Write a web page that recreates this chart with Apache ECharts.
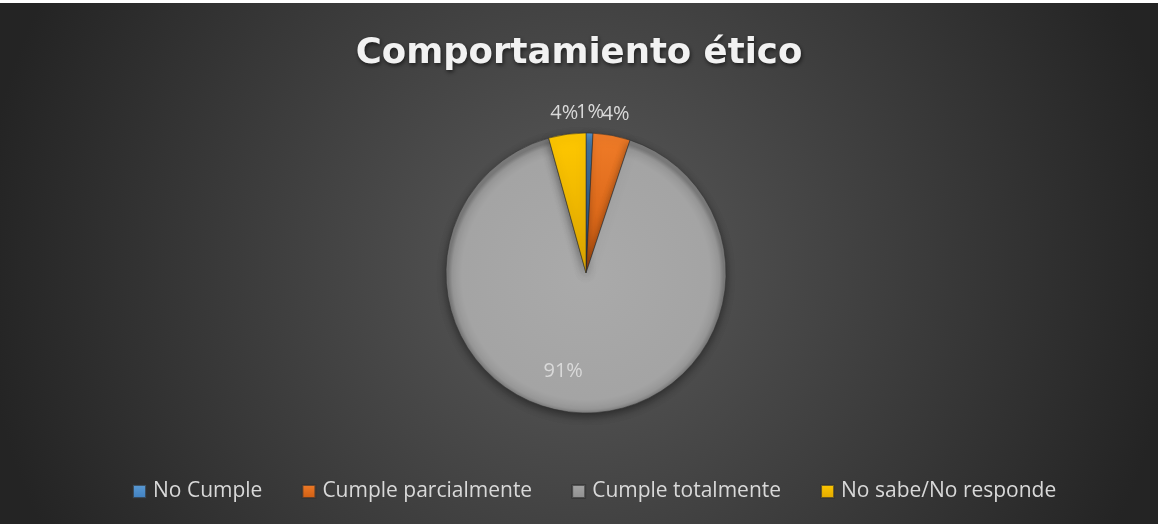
<!DOCTYPE html>
<html>
<head>
<meta charset="utf-8">
<script src="https://cdn.jsdelivr.net/npm/echarts@6/dist/echarts.min.js"></script>
<style>
  html, body { margin: 0; padding: 0; background: #ffffff; }
  #chart { position: absolute; left: 0; top: 3px; width: 1158px; height: 521px; }
</style>
</head>
<body>
<div id="chart"></div>
<script>
const titleText = 'Comportamiento ético';
const categories = ['No Cumple', 'Cumple parcialmente', 'Cumple totalmente', 'No sabe/No responde'];
const values = [0.8, 4.3, 90.6, 4.3];
const colors = ['#5b9bd5', '#f07c28', '#a5a5a5', '#ffc800'];

function grad(c, dark) {
  return { type: 'linear', x: 0, y: 0, x2: 0, y2: 1,
    colorStops: [{ offset: 0, color: c }, { offset: 1, color: dark }] };
}
const darks = ['#3f7fbf', '#cf5d12', '#8f8f8f', '#e0a800'];

const chart = echarts.init(document.getElementById('chart'), null, { renderer: 'canvas' });

const data = categories.map((name, i) => {
  const item = {
    name: name,
    value: values[i],
    itemStyle: {
      color: i === 2 ? {
        type: 'radial', x: 0.5, y: 0.5, r: 0.5,
        colorStops: [
          { offset: 0, color: '#aaaaaa' },
          { offset: 0.9, color: '#a4a4a4' },
          { offset: 0.97, color: '#979797' },
          { offset: 1, color: '#7a7a7a' }
        ]
      } : grad(colors[i], darks[i])
    }
  };
  if (i === 2) {
    item.label = { position: 'inside' };
  }
  return item;
});

chart.setOption({
  backgroundColor: {
    type: 'radial', x: 0.5, y: 0.5, r: 1.15,
    colorStops: [
      { offset: 0, color: '#5a5a5a' },
      { offset: 1, color: '#242424' }
    ]
  },
  title: {
    text: titleText,
    left: 'center',
    top: 28,
    textStyle: {
      fontFamily: 'DejaVu Sans',
      fontWeight: 'bold',
      fontSize: 35.5,
      color: '#f2f2f2',
      textShadowColor: 'rgba(0,0,0,0.6)',
      textShadowBlur: 4,
      textShadowOffsetX: 1,
      textShadowOffsetY: 2
    }
  },
  legend: {
    bottom: 17,
    left: 127,
    itemWidth: 13,
    itemHeight: 13,
    itemGap: 39,
    icon: 'rect',
    textStyle: { fontFamily: 'Open Sans', fontSize: 21, color: '#d9d9d9', padding: [0, 0, 0, 2] },
    data: categories.map((c, i) => ({ name: c, itemStyle: { color: grad(colors[i], darks[i]) } }))
  },
  series: [{
    type: 'pie',
    center: [586, 270],
    radius: 140,
    startAngle: 90,
    clockwise: true,
    avoidLabelOverlap: false,
    itemStyle: {
      borderColor: 'rgba(50,50,50,0.7)',
      borderWidth: 0.8,
      shadowColor: 'rgba(0,0,0,0.45)',
      shadowBlur: 10,
      shadowOffsetY: 3
    },
    label: {
      show: true,
      position: 'outside',
      fontFamily: 'Open Sans',
      fontSize: 20,
      color: '#d9d9d9',
      distanceToLabelLine: 0,
      formatter: p => Math.round(p.percent) + '%'
    },
    labelLine: { show: false, length: 21, length2: 0 },
    labelLayout: function (p) {
      if (p.dataIndex === 2) return { dx: -21, dy: 25 };
      return { align: 'center', verticalAlign: 'middle' };
    },
    emphasis: { disabled: true },
    data: data
  }],
  animation: false
});
</script>
</body>
</html>
